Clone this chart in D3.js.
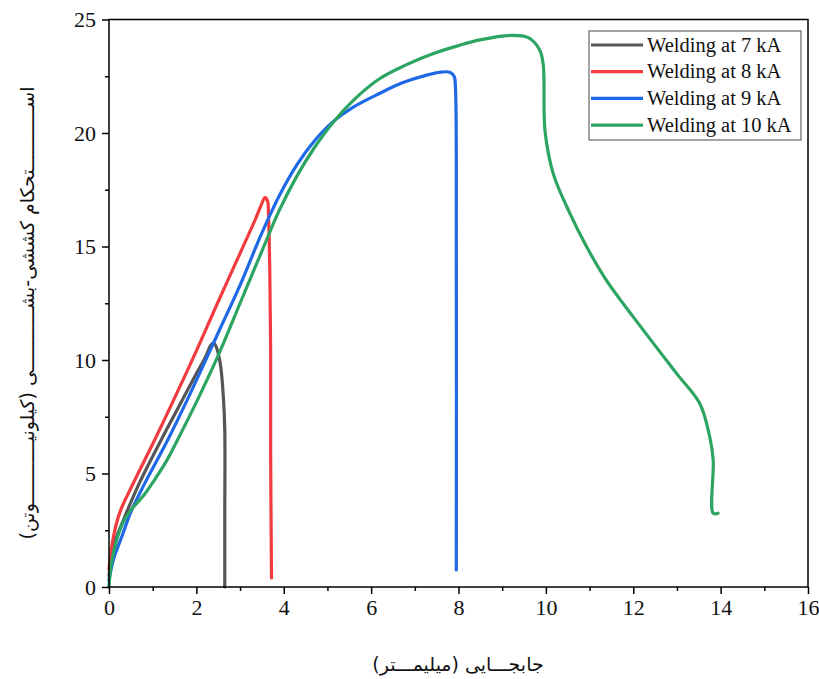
<!DOCTYPE html>
<html><head><meta charset="utf-8">
<script src="https://cdn.jsdelivr.net/npm/d3@7"></script>
<style>body{margin:0;background:#fff} .serif{font-family:"Liberation Serif","DejaVu Serif",serif}</style>
</head><body>
<svg id="c" width="819" height="679"></svg>
<script>
const seriesNames = ["Welding at 7 kA","Welding at 8 kA","Welding at 9 kA","Welding at 10 kA"];
const seriesColors = ["#555555","#f23b3f","#1f68e6","#2ca462"];
const s7 = [[0,0.5],[0.1,1.8],[0.33,2.95],[0.7,4.6],[1.2,6.5],[1.6,7.95],[2.0,9.4],[2.2,10.1],[2.33,10.65],[2.39,10.76],[2.45,10.6],[2.55,9.8],[2.62,8.3],[2.65,6.9],[2.65,3],[2.65,0]];
const s8 = [[0,0.8],[0.1,2.2],[0.25,3.3],[0.5,4.35],[1.05,6.5],[1.47,8.2],[2.0,10.4],[2.46,12.4],[3.0,14.7],[3.35,16.2],[3.5,16.9],[3.57,17.15],[3.63,17.0],[3.65,16.4],[3.68,14],[3.7,10.5],[3.7,6],[3.72,0.4]];
const s9 = [[0,0.3],[0.1,1.2],[0.29,2.2],[0.5,3.3],[0.8,4.5],[1.35,6.5],[1.78,8.2],[2.5,11.2],[3.0,13.3],[3.5,15.6],[3.9,17.25],[4.3,18.6],[4.7,19.65],[5.13,20.5],[5.6,21.15],[6.2,21.75],[6.7,22.2],[7.27,22.55],[7.6,22.68],[7.8,22.68],[7.9,22.5],[7.93,22.0],[7.95,15],[7.95,0.75]];
const s10 = [[0,0],[0.05,1],[0.18,2.1],[0.35,2.95],[0.55,3.5],[0.8,4.05],[1.0,4.6],[1.3,5.5],[1.6,6.6],[2.04,8.3],[2.5,10.2],[3.0,12.5],[3.5,14.8],[3.9,16.6],[4.3,18.1],[4.7,19.35],[5.06,20.3],[5.6,21.45],[6.2,22.4],[6.8,23.0],[7.35,23.45],[8.0,23.85],[8.49,24.1],[9.2,24.3],[9.6,24.2],[9.86,23.65],[9.94,23.0],[9.98,20.1],[10.17,18.2],[10.55,16.46],[10.93,15.0],[11.39,13.5],[12.0,11.9],[12.99,9.41],[13.52,8.09],[13.75,6.62],[13.83,5.6],[13.83,3.25],[13.94,3.25]];
const seriesData = [s7,s8,s9,s10];
const xTicks = [0,2,4,6,8,10,12,14,16];
const yTicks = [0,5,10,15,20,25];
const xTitle = "جابجـــایی (میلیمـــتر)";
const yTitle = "اســـــــــــتحکام کششی-بشـــــــــــی (کیلونیـــــــــــوتن)";

const svg = d3.select("#c");
const L=109, R=808, T=19.5, B=587;
const x = d3.scaleLinear().domain([0,16]).range([L,R]);
const y = d3.scaleLinear().domain([0,25]).range([B,T]);

const line = d3.line().x(d=>x(d[0])).y(d=>y(d[1])).curve(d3.curveCatmullRom.alpha(0.5));
const g = svg.append("g");
seriesData.forEach((d,i)=>{
  g.append("path").attr("d",line(d)).attr("fill","none").attr("stroke",seriesColors[i])
   .attr("stroke-width",3.2).attr("stroke-linejoin","round").attr("stroke-linecap","round");
});

svg.append("rect").attr("x",L).attr("y",T).attr("width",R-L).attr("height",B-T)
  .attr("fill","none").attr("stroke","#000").attr("stroke-width",1.5);

const xa = svg.append("g").attr("transform",`translate(0,${B})`)
  .call(d3.axisBottom(x).tickValues(xTicks).tickFormat(d3.format("d")).tickSize(7).tickPadding(5));
const xm = svg.append("g").attr("transform",`translate(0,${B})`)
  .call(d3.axisBottom(x).tickValues(d3.range(1,16,2)).tickFormat("").tickSize(4));
const ya = svg.append("g").attr("transform",`translate(${L},0)`)
  .call(d3.axisLeft(y).tickValues(yTicks).tickFormat(d3.format("d")).tickSize(7).tickPadding(6));
const ym = svg.append("g").attr("transform",`translate(${L},0)`)
  .call(d3.axisLeft(y).tickValues([2.5,7.5,12.5,17.5,22.5]).tickFormat("").tickSize(4));
[xa,xm,ya,ym].forEach(a=>{
  a.attr("font-family",null);
  a.select(".domain").remove();
  a.selectAll(".tick line").attr("stroke","#000").attr("stroke-width",1.5);
  a.selectAll("text").attr("class","serif").style("font-size","22px").attr("fill","#111");
});

svg.append("text").attr("x",458).attr("y",671).attr("text-anchor","middle")
  .style("font-family","'DejaVu Sans',sans-serif").style("font-size","19px").attr("fill","#111").text(xTitle);
svg.append("text").attr("transform","translate(34,313) rotate(-90)").attr("text-anchor","middle")
  .style("font-family","'DejaVu Sans',sans-serif").style("font-size","19px").attr("fill","#111").text(yTitle);

const lg = svg.append("g");
lg.append("rect").attr("x",589).attr("y",31).attr("width",212).attr("height",109)
  .attr("fill","#fff").attr("stroke","#666").attr("stroke-width",1.2);
seriesNames.forEach((n,i)=>{
  const yy = 45 + i*26.7;
  lg.append("line").attr("x1",591).attr("x2",643).attr("y1",yy).attr("y2",yy)
    .attr("stroke",seriesColors[i]).attr("stroke-width",3.2);
  lg.append("text").attr("x",647).attr("y",yy+6.5).attr("class","serif").style("font-size","20.5px")
    .attr("fill","#111").text(n);
});
</script>
</body></html>
